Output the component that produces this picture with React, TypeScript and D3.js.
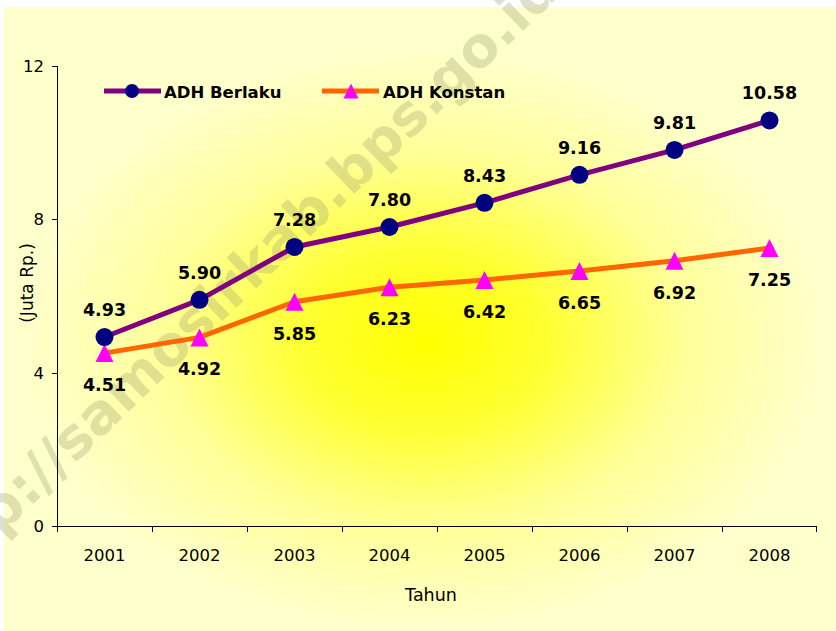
import React from "react";
import * as d3 from "d3";

const years = ["2001", "2002", "2003", "2004", "2005", "2006", "2007", "2008"];
const berlaku = [4.93, 5.9, 7.28, 7.8, 8.43, 9.16, 9.81, 10.58];
const konstan = [4.51, 4.92, 5.85, 6.23, 6.42, 6.65, 6.92, 7.25];
const yTicks = [0, 4, 8, 12];
const seriesNames = ["ADH Berlaku", "ADH Konstan"];
const watermark = "http://samosirkab.bps.go.id";

const W = 836;
const H = 631;
const FONT = "'DejaVu Sans', Verdana, sans-serif";

export default function App() {
  const x = d3.scaleBand<string>().domain(years).range([57, 817]);
  const y = d3.scaleLinear().domain([0, 12]).range([526, 66]);
  const cx = (yr: string) => (x(yr) as number) + x.bandwidth() / 2;

  const line = d3
    .line<number>()
    .x((_, i) => cx(years[i]))
    .y((d) => y(d));

  const triPath = (size: number) =>
    `M0,${-size / 2}L${size / 2},${size / 2}L${-size / 2},${size / 2}Z`;

  return (
    <svg
      width={W}
      height={H}
      style={{ position: "absolute", left: 0, top: 0, display: "block" }}
      fontFamily={FONT}
    >
      <defs>
        <radialGradient
          id="bg"
          gradientUnits="userSpaceOnUse"
          cx={0}
          cy={0}
          r={1}
          gradientTransform="translate(425,340) scale(400,290)"
        >
          <stop offset="0" stopColor="#FFFF00" />
          <stop offset="0.3" stopColor="#FFFF30" />
          <stop offset="0.65" stopColor="#FFFF99" />
          <stop offset="1" stopColor="#FFFFCC" />
        </radialGradient>
      </defs>
      <rect x={0} y={0} width={W} height={H} fill="#FFFFFF" />
      <rect x={4} y={7} width={W - 4} height={H - 7} fill="url(#bg)" />

      {/* watermark */}
      <text
        x={0}
        y={0}
        transform="translate(237,286) rotate(-44)"
        textAnchor="middle"
        dominantBaseline="middle"
        fontSize={56}
        fontWeight="bold"
        fill="#A0A070"
        fillOpacity={0.32}
      >
        {watermark}
      </text>

      {/* axes */}
      <g stroke="#000" strokeWidth={1} shapeRendering="crispEdges">
        <line x1={57.5} x2={57.5} y1={66} y2={526.5} />
        <line x1={57} x2={817} y1={526.5} y2={526.5} />
        {yTicks.map((t) => (
          <line key={t} x1={52} x2={57.5} y1={Math.round(y(t)) + 0.5} y2={Math.round(y(t)) + 0.5} />
        ))}
        {years.map((yr) => (
          <line key={yr} x1={Math.round(x(yr) as number) + 0.5} x2={Math.round(x(yr) as number) + 0.5} y1={526.5} y2={532} />
        ))}
        <line x1={816.5} x2={816.5} y1={526.5} y2={532} />
      </g>
      {yTicks.map((t) => (
        <text key={t} x={44} y={y(t)} dy="0.36em" textAnchor="end" fontSize={16.5} fill="#000">
          {t}
        </text>
      ))}
      {years.map((yr) => (
        <text key={yr} x={cx(yr)} y={561} textAnchor="middle" fontSize={16.5} fill="#000">
          {yr}
        </text>
      ))}
      <text x={431} y={601} textAnchor="middle" fontSize={17.5} fill="#000">
        Tahun
      </text>
      <text transform={`translate(33,283) rotate(-90)`} textAnchor="middle" fontSize={17} fill="#000">
        (Juta Rp.)
      </text>

      {/* lines */}
      <path d={line(konstan) as string} fill="none" stroke="#FF6600" strokeWidth={5} strokeLinejoin="round" />
      <path d={line(berlaku) as string} fill="none" stroke="#800080" strokeWidth={5} strokeLinejoin="round" />

      {konstan.map((v, i) => (
        <path key={"k" + i} d={triPath(18)} transform={`translate(${cx(years[i])},${y(v)})`} fill="#FF00FF" />
      ))}
      {berlaku.map((v, i) => (
        <circle key={"b" + i} cx={cx(years[i])} cy={y(v)} r={9} fill="#000080" />
      ))}

      {/* data labels */}
      {berlaku.map((v, i) => (
        <text key={"bl" + i} x={cx(years[i])} y={y(v) - 21} textAnchor="middle" fontSize={17.5} fontWeight="bold" fill="#000">
          {v.toFixed(2)}
        </text>
      ))}
      {konstan.map((v, i) => (
        <text key={"kl" + i} x={cx(years[i])} y={y(v) + 38} textAnchor="middle" fontSize={17.5} fontWeight="bold" fill="#000">
          {v.toFixed(2)}
        </text>
      ))}

      {/* legend */}
      <g>
        <line x1={104} x2={161} y1={91} y2={91} stroke="#800080" strokeWidth={5} />
        <circle cx={132} cy={91} r={7} fill="#000080" />
        <text x={164} y={98} fontSize={16.5} fontWeight="bold" fill="#000">
          {seriesNames[0]}
        </text>
        <line x1={322} x2={379} y1={91} y2={91} stroke="#FF6600" strokeWidth={5} />
        <path d={triPath(15)} transform="translate(351,91)" fill="#FF00FF" />
        <text x={383} y={98} fontSize={16.5} fontWeight="bold" fill="#000">
          {seriesNames[1]}
        </text>
      </g>
    </svg>
  );
}
